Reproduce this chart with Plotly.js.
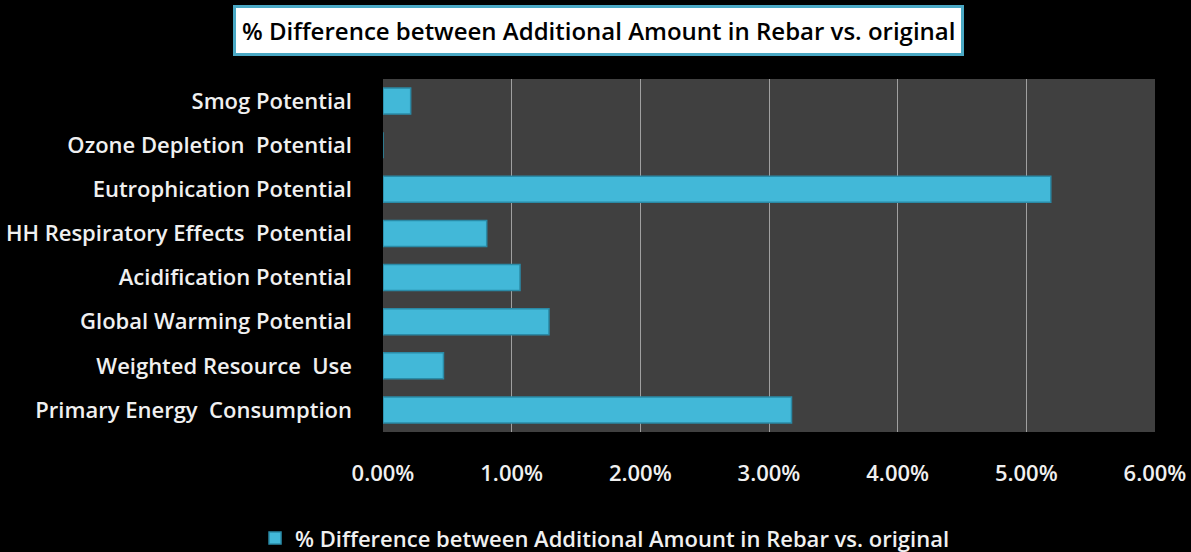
<!DOCTYPE html>
<html>
<head>
<meta charset="utf-8">
<script src="https://cdn.plot.ly/plotly-3.0.1.min.js"></script>
<style>
html,body{margin:0;padding:0;background:#000;}
#chart{width:1191px;height:552px;}
</style>
</head>
<body>
<div id="chart"></div>
<script>
const categories = [
  "Primary Energy  Consumption",
  "Weighted Resource  Use",
  "Global Warming Potential",
  "Acidification Potential",
  "HH Respiratory Effects  Potential",
  "Eutrophication Potential",
  "Ozone Depletion  Potential",
  "Smog Potential"
];
const values = [0.03175, 0.0047, 0.0129, 0.01065, 0.00806, 0.0519, 0.0, 0.00215];
const seriesName = "% Difference between Additional Amount in Rebar vs. original";
const tickVals = [0, 0.01, 0.02, 0.03, 0.04, 0.05, 0.06];
const tickText = ["0.00%", "1.00%", "2.00%", "3.00%", "4.00%", "5.00%", "6.00%"];

const font = "Open Sans, Noto Sans, sans-serif";

const trace = {
  type: "bar",
  orientation: "h",
  y: categories,
  x: values,
  name: seriesName,
  marker: {color: "#42b8d8", line: {color: "#2a8aa6", width: 1.5}},
  hoverinfo: "x+y"
};

const layout = {
  width: 1191,
  height: 552,
  paper_bgcolor: "#000000",
  plot_bgcolor: "#404040",
  margin: {l: 383, r: 36, t: 79, b: 120, pad: 0},
  bargap: 0.41,
  showlegend: true,
  legend: {
    orientation: "h",
    xref: "container", yref: "container",
    x: 0.508, xanchor: "center",
    y: 0.025, yanchor: "middle",
    font: {family: font, size: 22, color: "#f0f0f0", weight: 600},
    itemwidth: 30,
    bgcolor: "rgba(0,0,0,0)"
  },
  xaxis: {
    range: [0, 0.06],
    tickvals: tickVals,
    ticktext: tickText,
    showgrid: true,
    gridcolor: "#a0a0a0",
    gridwidth: 1,
    zeroline: false,
    showline: false,
    ticks: "",
    ticklabelstandoff: 26,
    tickfont: {family: font, size: 22, color: "#f0f0f0", weight: 600},
    fixedrange: true
  },
  yaxis: {
    type: "category",
    categoryorder: "array",
    categoryarray: categories,
    showgrid: false,
    zeroline: false,
    showline: false,
    ticks: "",
    ticklabelstandoff: 30,
    tickfont: {family: font, size: 22, color: "#f0f0f0", weight: 600},
    fixedrange: true
  },
  annotations: [{
    xref: "paper", yref: "paper",
    x: (598 - 383) / (1155 - 383), y: (432 - 30) / (432 - 79),
    xanchor: "center", yanchor: "middle",
    showarrow: false,
    text: seriesName,
    font: {family: font, size: 24, color: "#000000", weight: 600},
    bgcolor: "#ffffff",
    bordercolor: "#4aa8c4",
    borderwidth: 3,
    borderpad: 6
  }]
};

Plotly.newPlot("chart", [trace], layout, {displayModeBar: false, staticPlot: true});
</script>
</body>
</html>
